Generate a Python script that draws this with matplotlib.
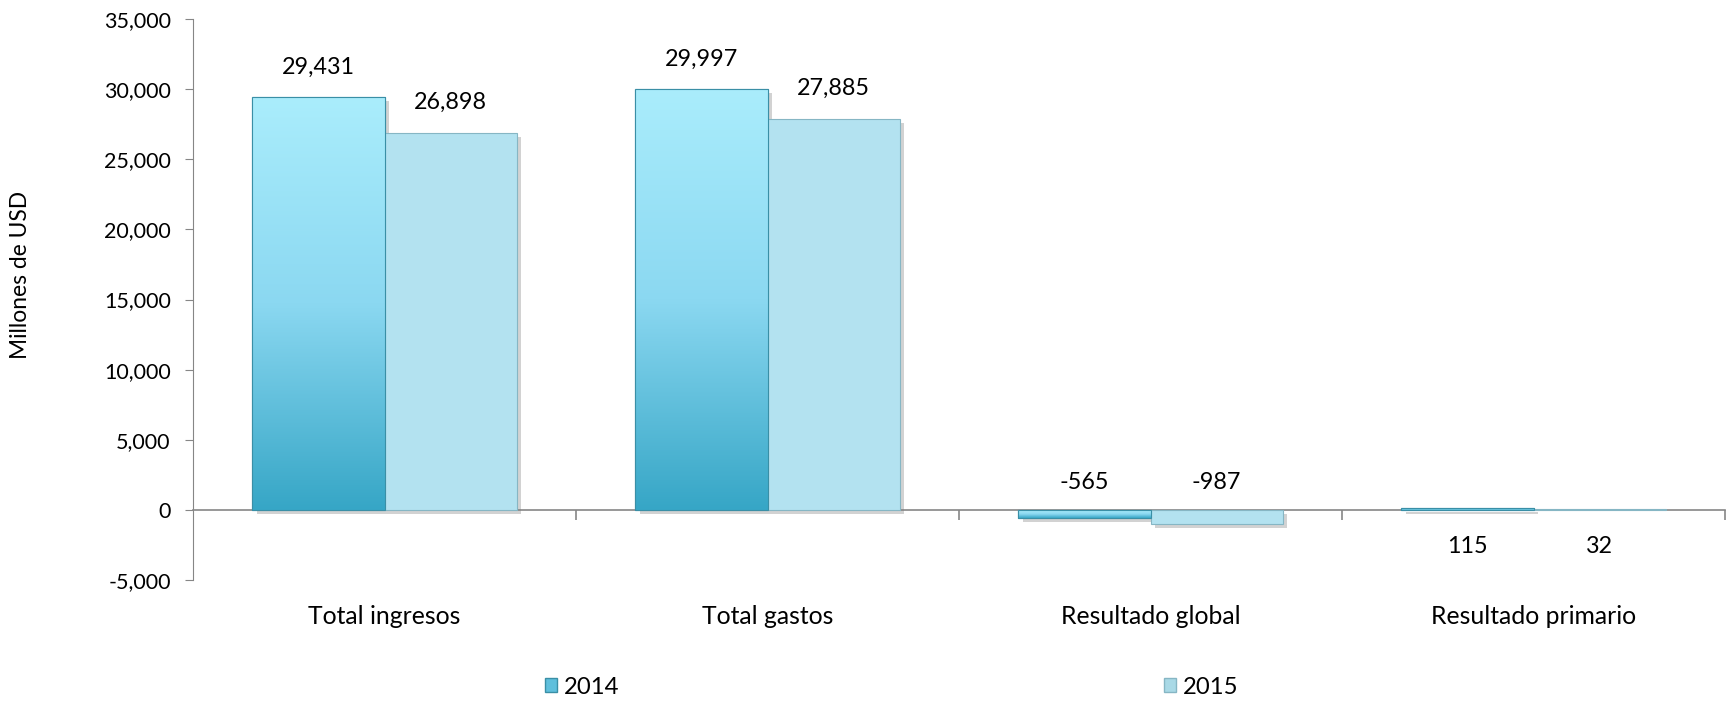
import numpy as np
import matplotlib
matplotlib.use("Agg")
import matplotlib.pyplot as plt
import matplotlib.patheffects as pe
from matplotlib.patches import Patch
from matplotlib.colors import LinearSegmentedColormap
from matplotlib.ticker import FuncFormatter, FixedLocator

plt.rcParams['font.family'] = ['Lato', 'DejaVu Sans']

# data
categories = ['Total ingresos', 'Total gastos', 'Resultado global', 'Resultado primario']
years = ['2014', '2015']
values_2014 = [29431, 29997, -565, 115]
values_2015 = [26898, 27885, -987, 32]
y_ticks = [-5000, 0, 5000, 10000, 15000, 20000, 25000, 30000, 35000]

fig = plt.figure(figsize=(17.28, 7.02), dpi=100, facecolor='white')
ax = fig.add_axes([193 / 1728, 1 - 580 / 702, 1532 / 1728, 561 / 702])

x = np.arange(len(categories))
width = 0.345
grad_cmap = LinearSegmentedColormap.from_list('g2014', ['#36a6c6', '#8bd8f1', '#aaedfc'])
shadow = [pe.SimplePatchShadow(offset=(3, -3), shadow_rgbFace='#808080', alpha=0.35), pe.Normal()]

bars_a = ax.bar(x - width / 2, values_2014, width, color='#7ccbe6', edgecolor='#3a8fa6',
                linewidth=0.8, zorder=3, path_effects=shadow)
bars_b = ax.bar(x + width / 2, values_2015, width, color='#b3e2f0', edgecolor='#86b6c4',
                linewidth=0.8, zorder=3, path_effects=shadow)

# vertical gradient inside the 2014 bars
grad = np.linspace(0, 1, 256).reshape(-1, 1)
for b in bars_a:
    x0, w, h = b.get_x(), b.get_width(), b.get_height()
    lo, hi = min(0, h), max(0, h)
    im = ax.imshow(grad, cmap=grad_cmap, origin='lower', aspect='auto',
                   extent=[x0, x0 + w, lo, hi], zorder=3.5, interpolation='bicubic')
    im.set_clip_path(b)
    ax.bar(b.get_x() + w / 2, h, w, fill=False, edgecolor='#3a8fa6', linewidth=0.8, zorder=3.6)

# data labels
def label(bar, v):
    cx = bar.get_x() + bar.get_width() / 2
    if v > 1000:
        ax.annotate(f'{v:,}', (cx, v), xytext=(0, 14), textcoords='offset points',
                    ha='center', va='bottom', fontsize=16.8)
    elif v < 0:
        ax.annotate(f'{v:,}', (cx, 0), xytext=(0, 12), textcoords='offset points',
                    ha='center', va='bottom', fontsize=16.8)
    else:
        ax.annotate(f'{v:,}', (cx, 0), xytext=(0, -19), textcoords='offset points',
                    ha='center', va='top', fontsize=16.8)

for b, v in zip(bars_a, values_2014):
    label(b, v)
for b, v in zip(bars_b, values_2015):
    label(b, v)

ax.set_xlim(-0.5, len(categories) - 0.5)
ax.set_ylim(y_ticks[0], y_ticks[-1])
ax.set_yticks(y_ticks)
ax.yaxis.set_major_formatter(FuncFormatter(lambda v, p: f'{int(v):,}'))
ax.tick_params(axis='y', labelsize=15.5, length=6, color='#868686', pad=10)

for s in ['top', 'right']:
    ax.spines[s].set_visible(False)
ax.spines['left'].set_color('#868686')
ax.spines['bottom'].set_position(('data', 0))
ax.spines['bottom'].set_color('#868686')
ax.spines['bottom'].set_linewidth(1.2)
ax.set_xticks([])
ax.xaxis.set_minor_locator(FixedLocator(np.arange(0.5, len(categories), 1.0)))
ax.tick_params(axis='x', which='minor', length=7, color='#868686', width=1.2)

# category labels at the bottom of the plot
for xi, c in zip(x, categories):
    ax.text(xi, -0.045, c, transform=ax.get_xaxis_transform(), ha='center', va='top', fontsize=17.8)

ax.set_ylabel('Millones de USD', fontsize=16.4)
ax.yaxis.set_label_coords(-0.106, 0.544)

handles = [Patch(facecolor='#5fbfdc', edgecolor='#3a8fa6', label=years[0]),
           Patch(facecolor='#a9d9e6', edgecolor='#86b6c4', label=years[1])]
fig.legend(handles=handles, loc='center', bbox_to_anchor=(0.516, 0.021), ncol=2, frameon=False,
           fontsize=17.2, handlelength=0.5, handleheight=0.5, handletextpad=0.3, columnspacing=22.8,
           borderpad=0.1)

fig.savefig('out.png', dpi=100, facecolor='white')
